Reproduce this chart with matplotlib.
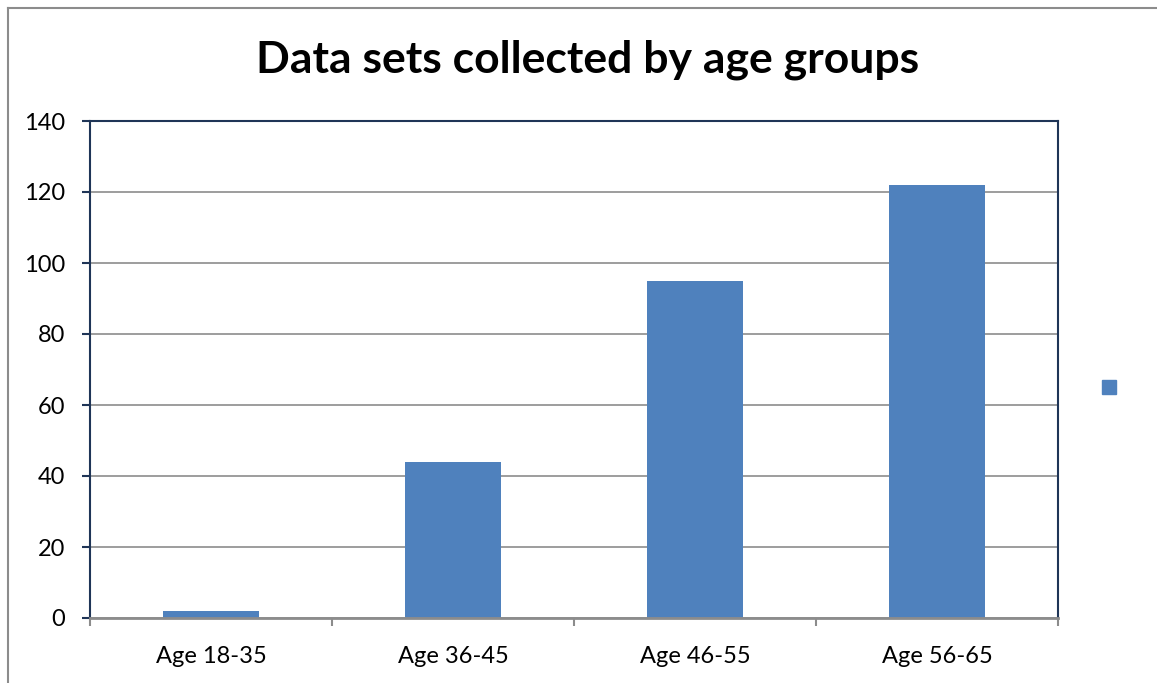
import matplotlib
matplotlib.use("Agg")
from matplotlib import pyplot as plt
from matplotlib.lines import Line2D

categories = ["Age 18-35", "Age 36-45", "Age 46-55", "Age 56-65"]
values = [2, 44, 95, 122]
yticks = [0, 20, 40, 60, 80, 100, 120, 140]

bar_color = "#4F81BD"
frame_color = "#1F3557"
grid_color = "#8C8C8C"

plt.rcParams["font.family"] = ["Lato", "DejaVu Sans"]

W, H = 1157, 683
fig = plt.figure(figsize=(W / 100, H / 100), dpi=100)

# outer chart border (top and left visible)
fig.add_artist(Line2D([8 / W, 8 / W], [0, 1 - 8 / H], color="#8C8C8C", lw=1.5))
fig.add_artist(Line2D([8 / W, 1], [1 - 8 / H, 1 - 8 / H], color="#8C8C8C", lw=1.5))

ax = fig.add_axes([90 / W, 1 - 618 / H, (1058 - 90) / W, (618 - 121) / H])
x = list(range(len(categories)))
ax.bar(x, values, width=0.4, color=bar_color, zorder=3)
ax.set_xlim(-0.5, len(categories) - 0.5)
ax.set_ylim(0, 140)
ax.set_yticks(yticks)
ax.set_yticklabels([str(t) for t in yticks], fontsize=17)
ax.set_xticks(x)
ax.set_xticklabels(categories, fontsize=17)
ax.set_xticks([i - 0.5 for i in range(len(categories) + 1)], minor=True)
ax.tick_params(axis="x", which="major", length=0, pad=20)
ax.tick_params(axis="x", which="minor", length=6, color=grid_color, width=1.5)
ax.tick_params(axis="y", length=6, color=frame_color, width=1.5, pad=12)
ax.grid(axis="y", color=grid_color, lw=1.2, zorder=0)
for side in ["left", "top", "right"]:
    ax.spines[side].set_color(frame_color)
    ax.spines[side].set_linewidth(1.5)
ax.spines["bottom"].set_color(grid_color)
ax.spines["bottom"].set_linewidth(2)
ax.spines["bottom"].set_zorder(4)

fig.text(588 / W, 1 - 60 / H, "Data sets collected by age groups",
         fontsize=32, fontweight="bold", ha="center", va="center")

# legend entry with no label
fig.patches.append(plt.Rectangle((1102 / W, 1 - 394 / H), 14 / W, 14 / H,
                                 transform=fig.transFigure, color=bar_color))

fig.savefig("out.png", dpi=100)
